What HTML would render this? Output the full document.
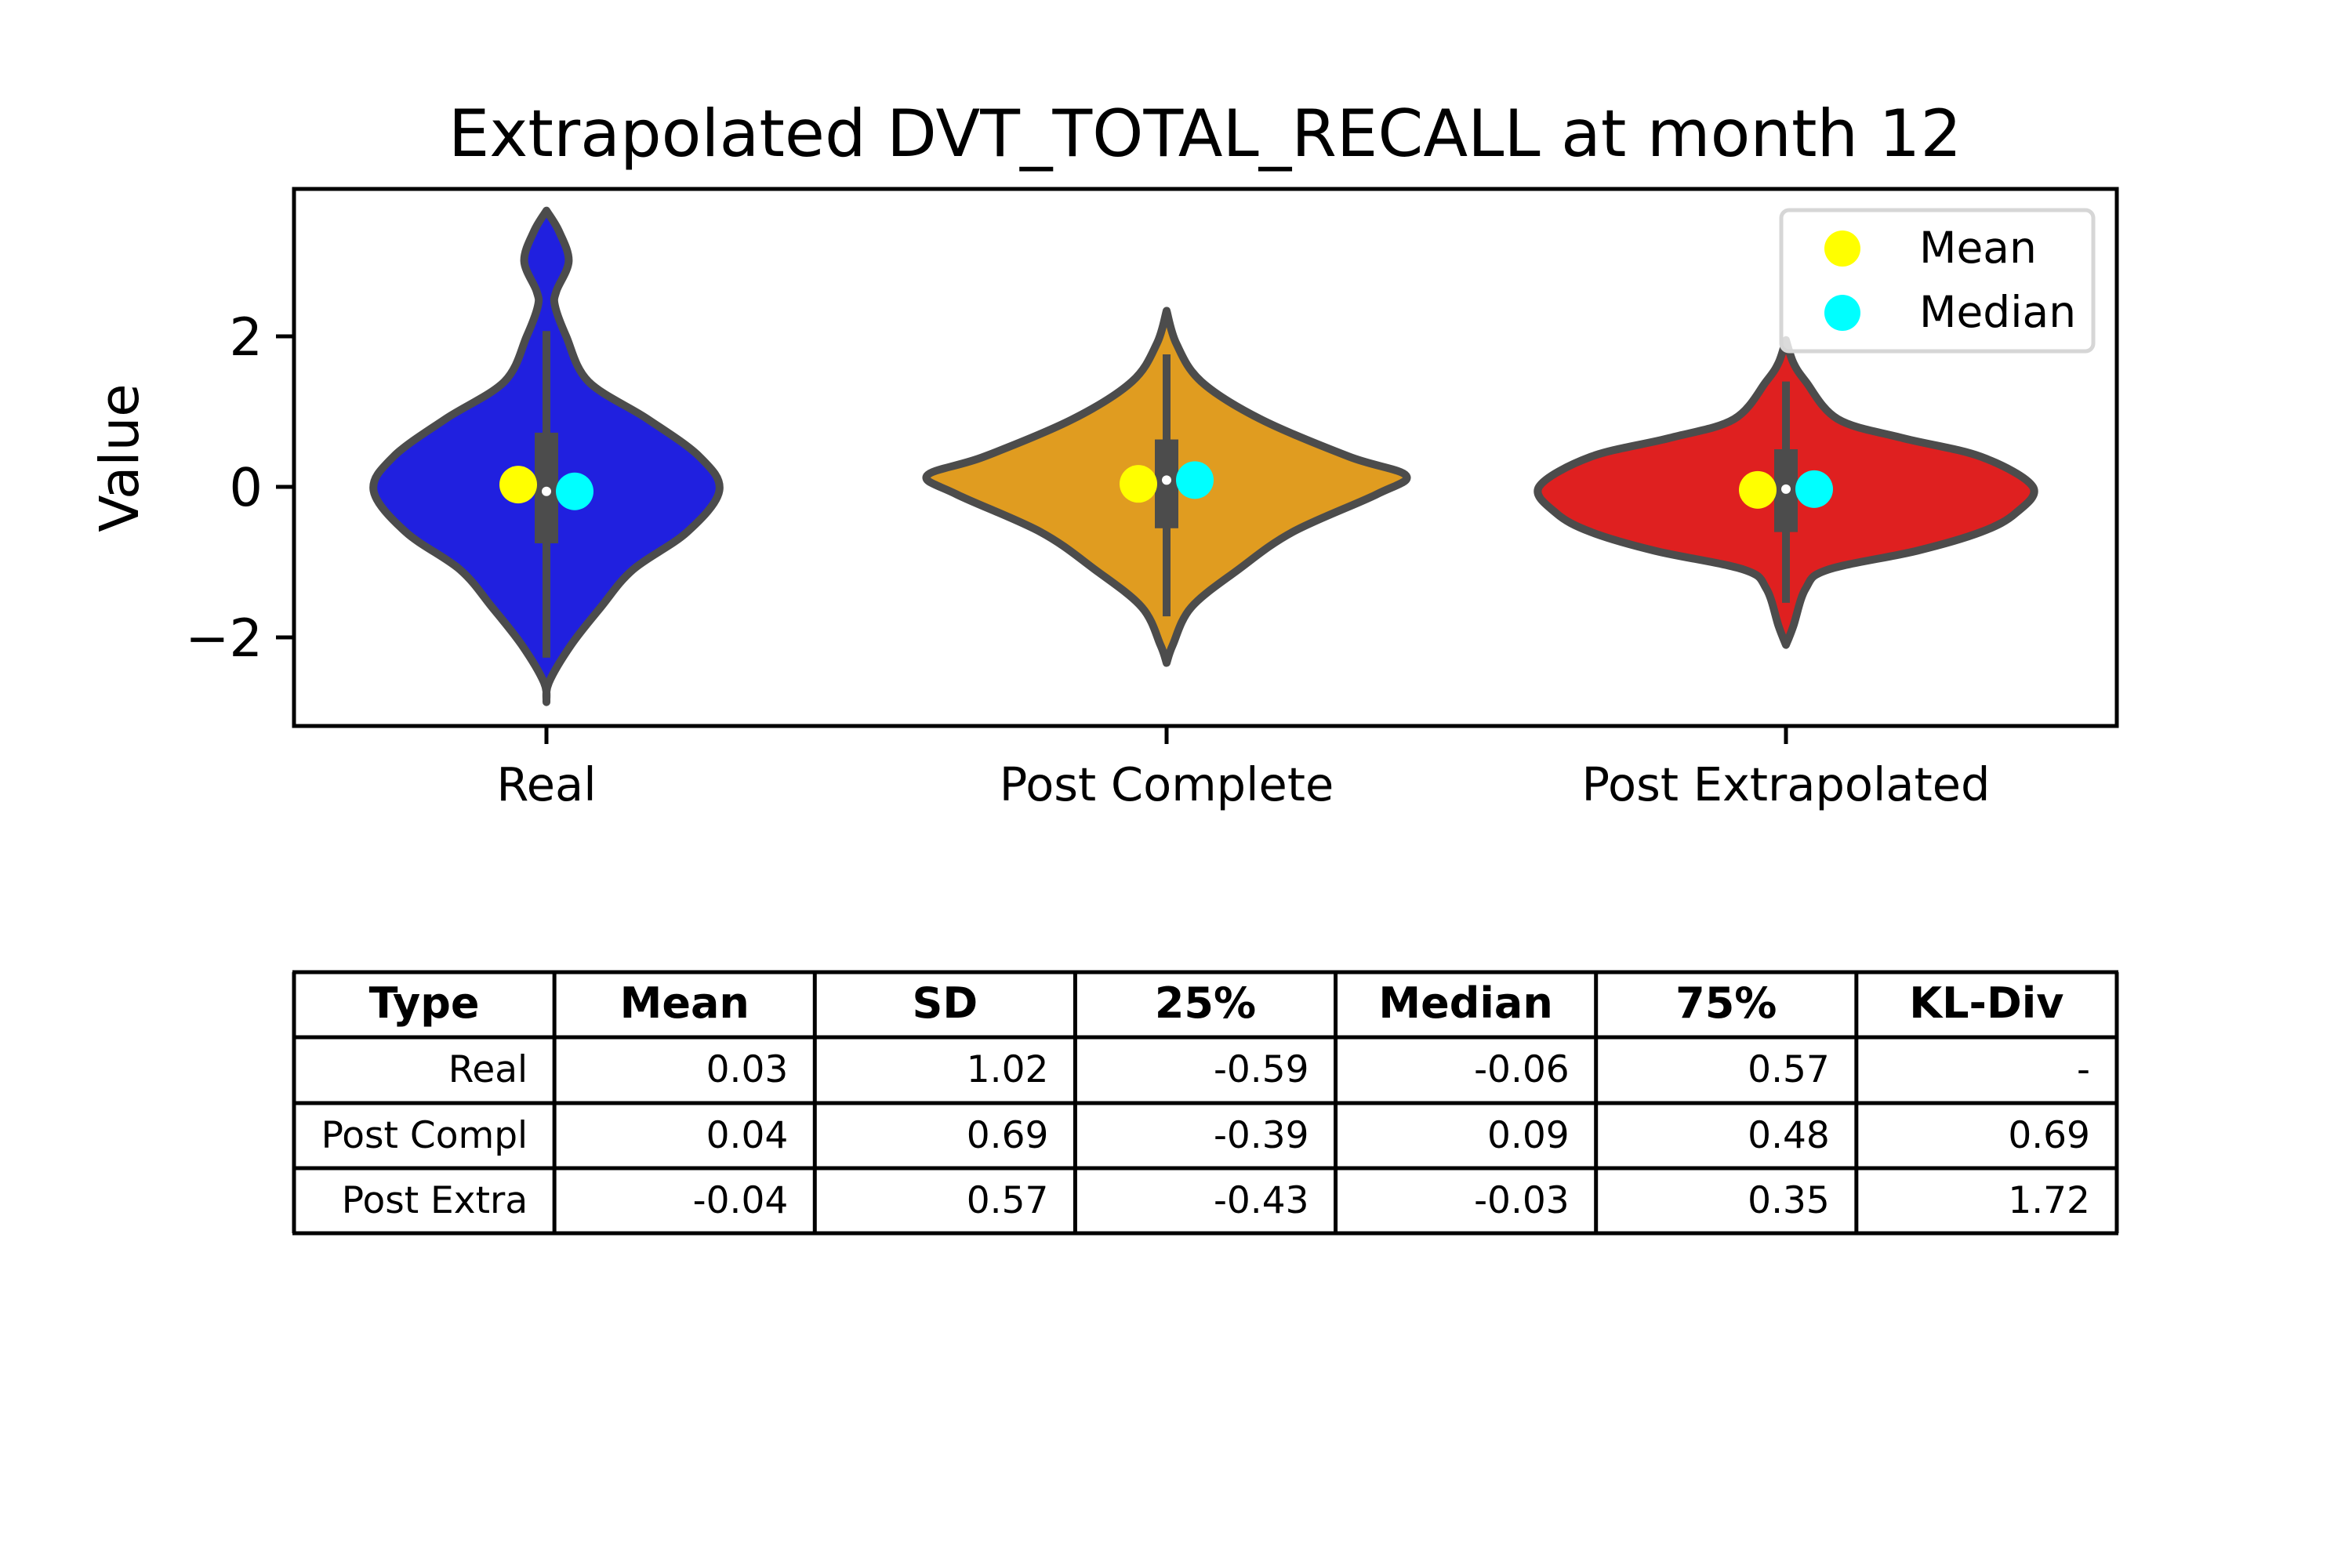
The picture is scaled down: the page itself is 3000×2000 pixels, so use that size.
<!DOCTYPE html>
<html><head><meta charset="utf-8"><style>
html,body{margin:0;padding:0;background:#fff;}
svg{display:block;font-family:"DejaVu Sans","Liberation Sans",sans-serif;}
</style></head><body>
<svg id="chart" width="3000" height="2000" viewBox="0 0 3000 2000" xmlns="http://www.w3.org/2000/svg">
<rect width="3000" height="2000" fill="#fff"/>
<text x="1537" y="199" font-size="83" text-anchor="middle">Extrapolated DVT_TOTAL_RECALL at month 12</text>
<text transform="translate(176,584) rotate(-90)" font-size="69" text-anchor="middle">Value</text>
<g id="plot"></g>
<g id="legend">
<rect x="2272" y="268" width="398" height="180" rx="10" fill="#fff" fill-opacity="0.8" stroke="#d6d6d6" stroke-width="5"/>
<circle cx="2350" cy="317" r="23" fill="#ffff00"/>
<text x="2448" y="335" font-size="55">Mean</text>
<circle cx="2350" cy="399" r="23" fill="#00ffff"/>
<text x="2448" y="417" font-size="55">Median</text>
</g>
<g id="table"></g>
</svg>
<script>
const categories = ["Real", "Post Complete", "Post Extrapolated"];
const colors = ["#2020df", "#e09c20", "#df2020"];
const yTicks = [-2, 0, 2];
// violin density profiles: value samples and relative half-widths
const realVals = [3.67,3.4,3.0,2.6,2.4,2.0,1.4,0.9,0.4,-0.05,-0.6,-1.1,-1.6,-2.1,-2.6,-2.86];
const realDens = [0,0.05,0.09,0.04,0.035,0.08,0.17,0.41,0.62,0.70,0.57,0.35,0.22,0.10,0.01,0];
const complVals = [2.34,1.9,1.4,0.9,0.4,0.15,-0.1,-0.6,-1.1,-1.6,-2.1,-2.34];
const complDens = [0,0.04,0.14,0.38,0.74,0.97,0.85,0.51,0.29,0.10,0.025,0];
const extraVals = [1.95,1.65,1.4,0.9,0.65,0.4,0,-0.35,-0.6,-0.85,-1.1,-1.35,-1.85,-2.1];
const extraDens = [0,0.03,0.08,0.21,0.47,0.79,1,0.93,0.79,0.53,0.17,0.08,0.03,0];
const q1 = [-0.75, -0.55, -0.6];
const q3 = [0.72, 0.63, 0.5];
const whiskLo = [-2.27, -1.72, -1.54];
const whiskHi = [2.07, 1.76, 1.4];
const means = [0.03, 0.04, -0.04];
const medians = [-0.06, 0.09, -0.03];
const tableHeader = ["Type","Mean","SD","25%","Median","75%","KL-Div"];
const tableRowTypes = ["Real","Post Compl","Post Extra"];
const tableMean = ["0.03","0.04","-0.04"];
const tableSD = ["1.02","0.69","0.57"];
const tableQ1 = ["-0.59","-0.39","-0.43"];
const tableMedian = ["-0.06","0.09","-0.03"];
const tableQ3 = ["0.57","0.48","0.35"];
const tableKL = ["-","0.69","1.72"];

const NS = "http://www.w3.org/2000/svg";
const AX = {l:375, r:2700, t:241, b:926};
const catX = [697, 1488, 2278];
const y0px = 621, unit = 96, maxHalf = 315;
function ys(v){ return y0px - v*unit; }
function xs(i){ return catX[i]; }
function mk(tag, attrs, parent){ const e=document.createElementNS(NS,tag); for(const k in attrs) e.setAttribute(k,attrs[k]); parent.appendChild(e); return e; }
function smooth(pts){
  let d = "M"+pts[0][0]+","+pts[0][1];
  for(let i=0;i<pts.length-1;i++){
    const p0=pts[Math.max(0,i-1)], p1=pts[i], p2=pts[i+1], p3=pts[Math.min(pts.length-1,i+2)];
    const c1=[p1[0]+(p2[0]-p0[0])/6, p1[1]+(p2[1]-p0[1])/6];
    const c2=[p2[0]-(p3[0]-p1[0])/6, p2[1]-(p3[1]-p1[1])/6];
    d+=" C"+c1[0].toFixed(1)+","+c1[1].toFixed(1)+" "+c2[0].toFixed(1)+","+c2[1].toFixed(1)+" "+p2[0].toFixed(1)+","+p2[1].toFixed(1);
  }
  return d;
}
const plot = document.getElementById("plot");
const profiles = [[realVals,realDens],[complVals,complDens],[extraVals,extraDens]];
profiles.forEach((pr,i)=>{
  const cx = xs(i);
  const right = pr[0].map((v,k)=>[cx+pr[1][k]*maxHalf, ys(v)]);
  const left = pr[0].map((v,k)=>[cx-pr[1][k]*maxHalf, ys(v)]).reverse();
  const d = smooth(right)+" "+smooth(left).replace(/^M/,"L")+" Z";
  const p = mk("path",{d:d, fill:colors[i], stroke:"#4c4c4c","stroke-width":10,"stroke-linejoin":"round"},plot);
  
  
  const w = mk("line",{x1:cx,x2:cx,y1:ys(whiskHi[i]),y2:ys(whiskLo[i]),stroke:"#4c4c4c","stroke-width":10},plot);
  
  
  const b = mk("rect",{x:cx-15,y:ys(q3[i]),width:30,height:ys(q1[i])-ys(q3[i]),fill:"#4c4c4c"},plot);
  
  
  const md = mk("circle",{cx:cx,cy:ys(medians[i]),r:6,fill:"#fff"},plot);
  
  
  const mm = mk("circle",{cx:cx-36,cy:ys(means[i]),r:24,fill:"#ffff00"},plot);
  
  
  const mc = mk("circle",{cx:cx+36,cy:ys(medians[i]),r:24,fill:"#00ffff"},plot);
  
  
  const t = mk("line",{x1:cx,x2:cx,y1:AX.b,y2:AX.b+23,stroke:"#000","stroke-width":5},plot);
  
  
  const tl = mk("text",{x:cx,y:1021,"font-size":59,"text-anchor":"middle"},plot);
  tl.textContent = categories[i];
  
  
});
yTicks.forEach(v=>{
  const t = mk("line",{x1:AX.l-23,x2:AX.l,y1:ys(v),y2:ys(v),stroke:"#000","stroke-width":5},plot);
  
  
  const tl = mk("text",{x:AX.l-40,y:ys(v)+24,"font-size":67,"text-anchor":"end"},plot);
  tl.textContent = v<0 ? "\u2212"+Math.abs(v) : String(v);
  
  
});
const frame = mk("rect",{x:AX.l,y:AX.t,width:AX.r-AX.l,height:AX.b-AX.t,fill:"none",stroke:"#000","stroke-width":5},plot);



// table
const tg = document.getElementById("table");
const colL = 375, colW = 332.14, rowY = [1240,1323,1407,1490,1573];
const cols = [tableRowTypes,tableMean,tableSD,tableQ1,tableMedian,tableQ3,tableKL];
for(let c=0;c<7;c++){
  const h = mk("text",{x:colL+colW*c+colW/2,y:rowY[0]+58,"font-size":54,"font-weight":"bold","text-anchor":"middle"},tg);
  h.textContent = tableHeader[c];
  
  
  for(let r=0;r<3;r++){
    const t = mk("text",{x:colL+colW*(c+1)-34,y:rowY[r+1]+57,"font-size":47,"text-anchor":"end"},tg);
    t.textContent = cols[c][r];
    
    
  }
}
for(let r=0;r<5;r++){ mk("line",{x1:colL-2,x2:colL+colW*7+2,y1:rowY[r],y2:rowY[r],stroke:"#000","stroke-width":5},tg); }
for(let c=0;c<=7;c++){ mk("line",{x1:colL+colW*c,x2:colL+colW*c,y1:rowY[0],y2:rowY[4],stroke:"#000","stroke-width":5},tg); }
</script>
</body></html>
